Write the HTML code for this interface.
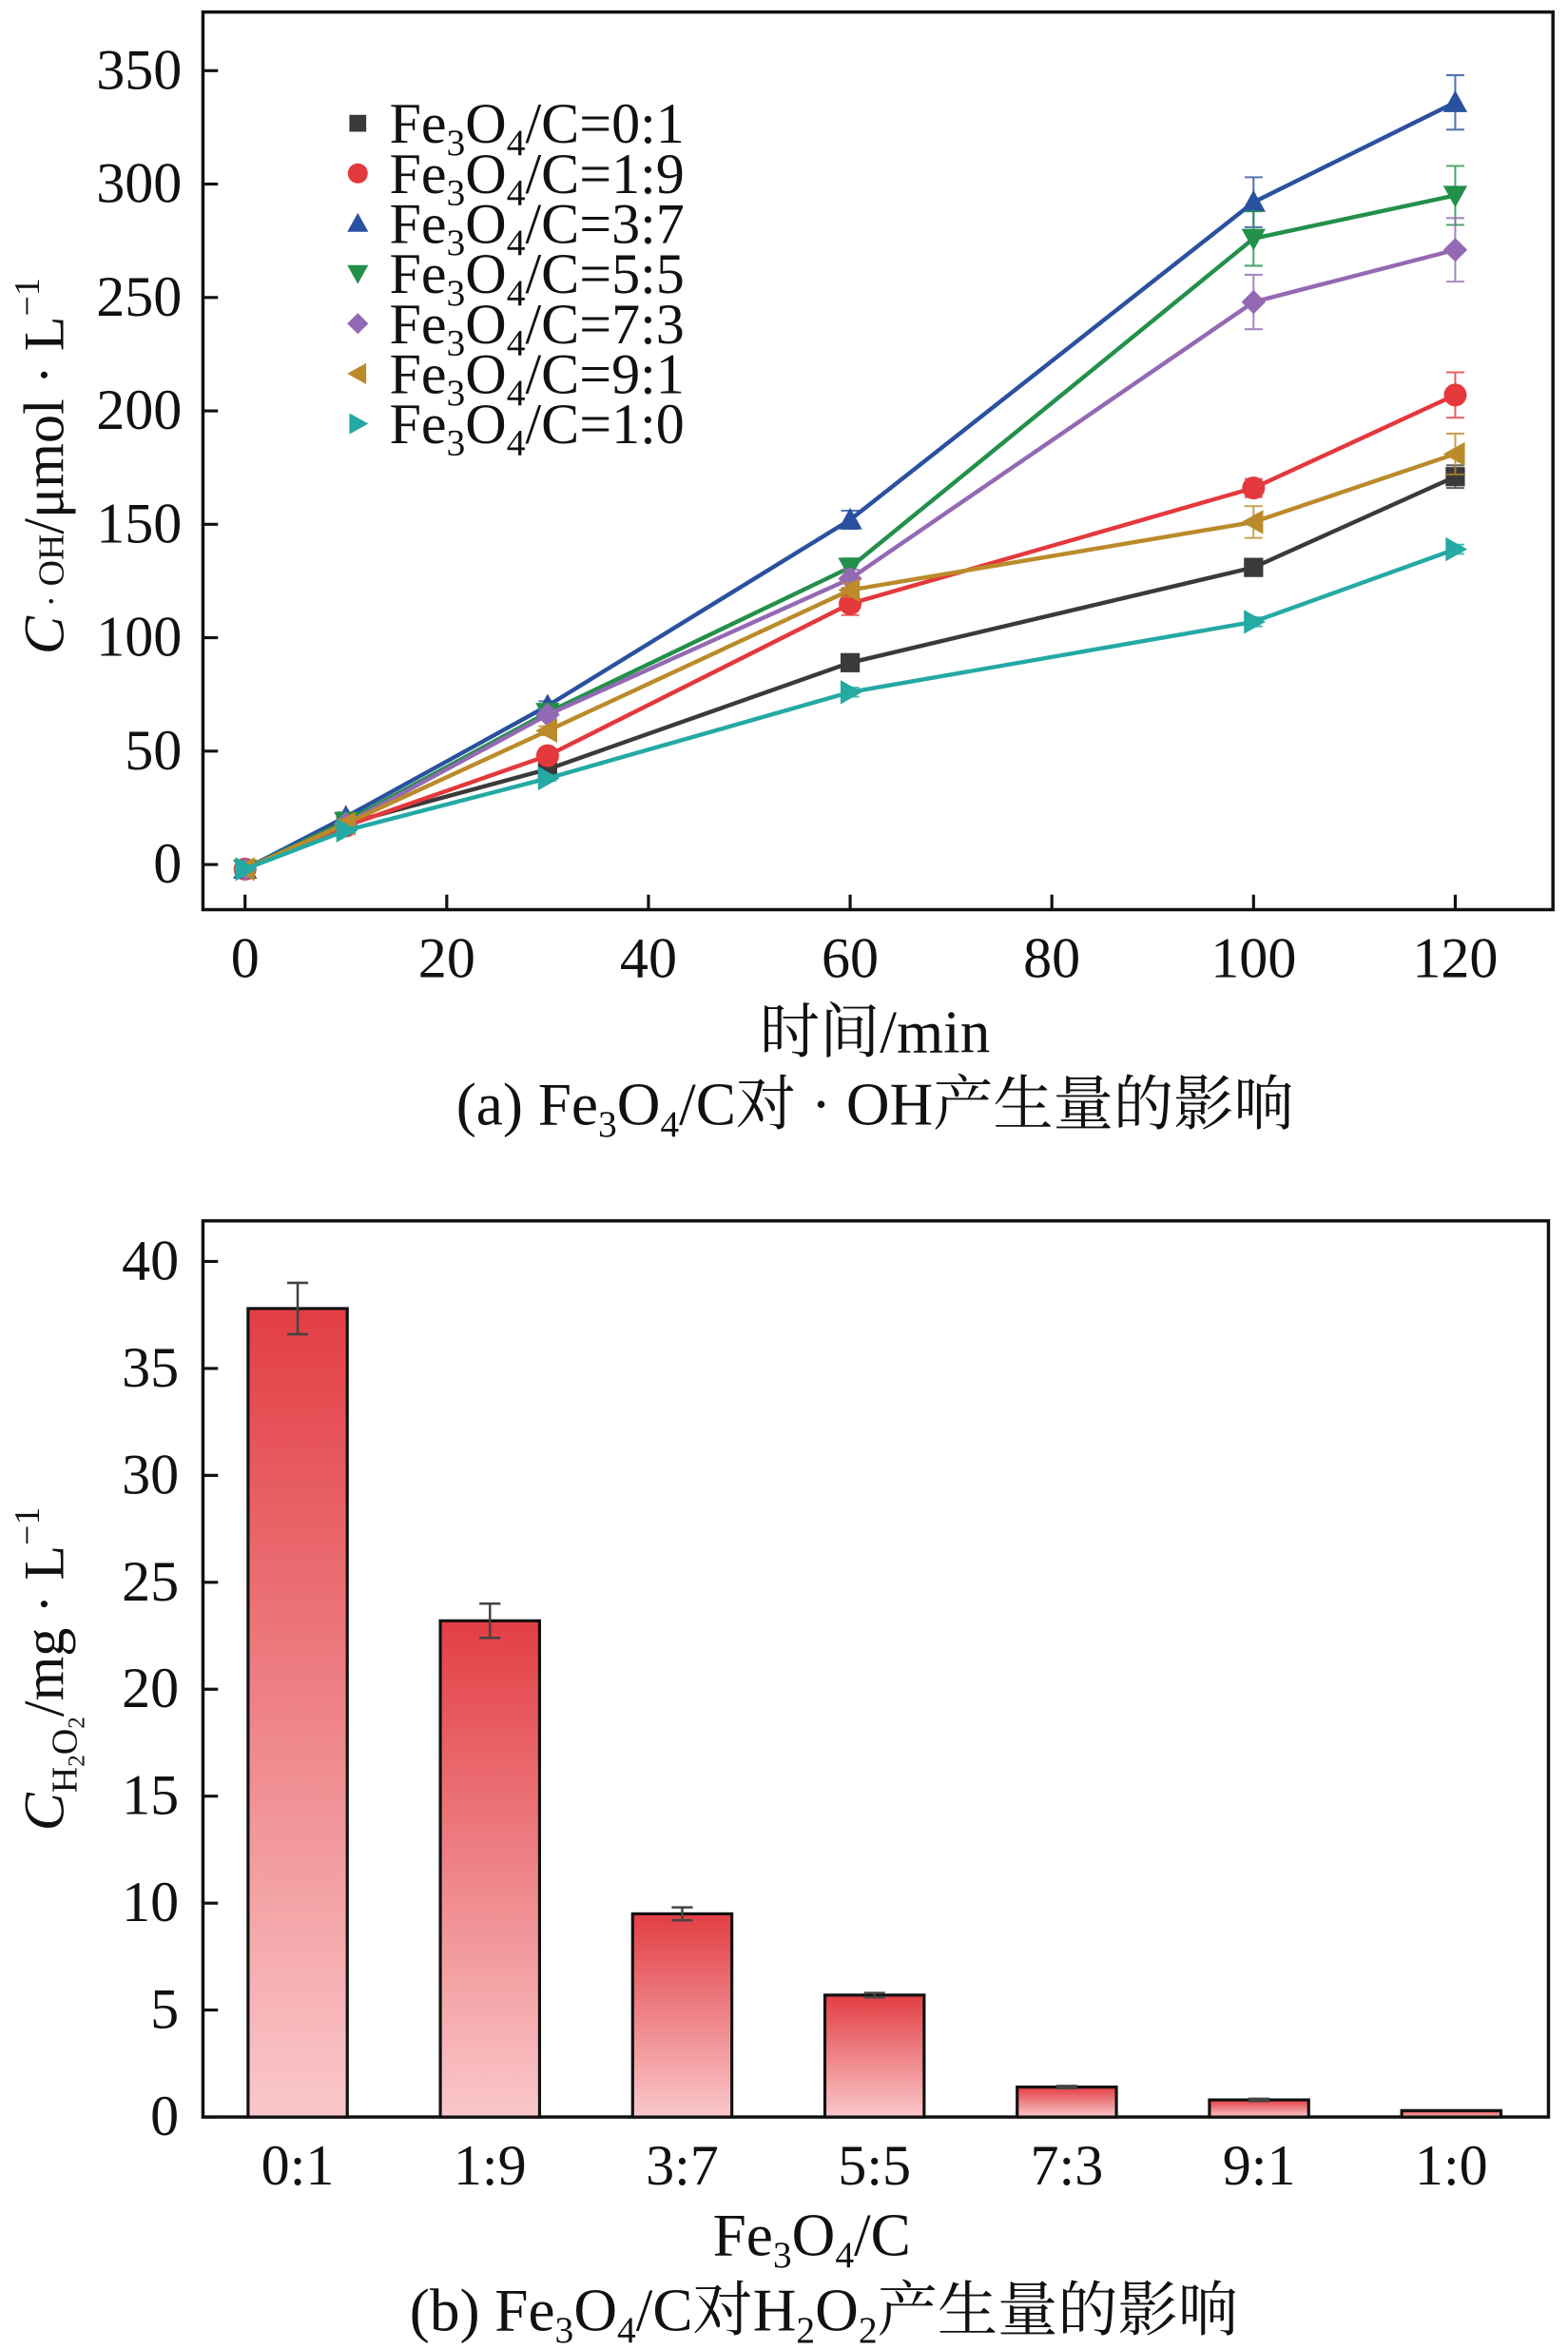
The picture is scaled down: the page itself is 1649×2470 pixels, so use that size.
<!DOCTYPE html>
<html><head><meta charset="utf-8"><style>
html,body{margin:0;padding:0;background:#fff}
svg{display:block}
text{font-family:"Liberation Serif","Noto Serif CJK SC",serif;fill:#111}
</style></head><body>
<svg id="fig" width="1649" height="2470" viewBox="0 0 1043 1562.3" preserveAspectRatio="none" xmlns="http://www.w3.org/2000/svg">
<defs>
<linearGradient id="barg" x1="0" y1="0" x2="0" y2="1">
<stop offset="0" stop-color="#e23e44"/><stop offset="1" stop-color="#fac8ca"/>
</linearGradient>
</defs>
<g id="chartA"></g>
<g id="chartB"></g>
</svg>
<script>
// ---- Chart A data ----
const timesA = [0, 10, 30, 60, 100, 120];
const seriesNames = ["0:1","1:9","3:7","5:5","7:3","9:1","1:0"];
const s01 = [-2, 18, 42, 89, 131, 171];
const s19 = [-2, 17, 48, 115, 166, 207];
const s37 = [-2, 21, 70, 152, 292, 336];
const s55 = [-2, 19, 67, 131, 276, 295];
const s73 = [-2, 18, 66, 126, 248, 271];
const s91 = [-2, 18, 59, 121, 151, 181];
const s10 = [-2, 15, 38, 76, 107, 139];
const err01 = [0, 1, 2, 2, 3, 5];
const err19 = [0, 2, 3, 5, 4, 10];
const err37 = [0, 2, 2, 4, 11, 12];
const err55 = [0, 2, 2, 4, 12, 13];
const err73 = [0, 2, 2, 4, 12, 14];
const err91 = [0, 2, 2, 3, 7, 9];
const err10 = [0, 1, 1, 2, 2, 2];
const yTicksA = [0, 50, 100, 150, 200, 250, 300, 350];
const xTicksA = [0, 20, 40, 60, 80, 100, 120];
// ---- Chart B data ----
const ratiosB = ["0:1","1:9","3:7","5:5","7:3","9:1","1:0"];
const valuesB = [37.8, 23.2, 9.5, 5.7, 1.4, 0.8, 0.3];
const errorsB = [1.2, 0.8, 0.3, 0.1, 0.05, 0.05, 0];
const yTicksB = [0, 5, 10, 15, 20, 25, 30, 35, 40];

const NS = "http://www.w3.org/2000/svg";
function mk(tag, attrs, parent, txt){
  const e = document.createElementNS(NS, tag);
  for (const k in attrs) e.setAttribute(k, attrs[k]);
  if (txt !== undefined) e.textContent = txt;
  parent.appendChild(e); return e;
}
const A = document.getElementById('chartA');
const B = document.getElementById('chartB');
const SUB = 'font-size="25" dy="8"', UP = 'dy="-8"';

// Chart A axes
const axA = {l:135, r:1033, t:8, b:605};
const xA = v => 163 + v * (968 - 163) / 120;
const yA = v => 575 - v * (575 - 47) / 350;
let fr = mk('rect', {x:axA.l, y:axA.t, width:axA.r-axA.l, height:axA.b-axA.t, fill:'none', stroke:'#111', 'stroke-width':2.2}, A);


yTicksA.forEach(v => {
  mk('line', {x1:axA.l, x2:axA.l+10, y1:yA(v), y2:yA(v), stroke:'#111', 'stroke-width':2}, A);
  const t = mk('text', {x:axA.l-14, y:yA(v)+12, 'text-anchor':'end', 'font-size':38}, A, v);
  
  
});
xTicksA.forEach(v => {
  mk('line', {x1:xA(v), x2:xA(v), y1:axA.b, y2:axA.b-10, stroke:'#111', 'stroke-width':2}, A);
  const t = mk('text', {x:xA(v), y:axA.b+45, 'text-anchor':'middle', 'font-size':38}, A, v);
  
  
});
const colors = ['#3a3a3a','#e4383c','#2a519f','#23904a','#9469b4','#bb8a2a','#24a9a4'];
const shapes = ['square','circle','up','down','diamond','left','right'];
const allS = [s01,s19,s37,s55,s73,s91,s10];
const allE = [err01,err19,err37,err55,err73,err91,err10];
function marker(shape, x, y, s, c, parent){
  let d;
  if (shape==='square') return mk('rect',{x:x-s*0.8,y:y-s*0.8,width:s*1.6,height:s*1.6,fill:c},parent);
  if (shape==='circle') return mk('circle',{cx:x,cy:y,r:s*0.95,fill:c},parent);
  if (shape==='up') d=`M${x},${y-s} L${x+s},${y+s*0.8} L${x-s},${y+s*0.8}Z`;
  if (shape==='down') d=`M${x},${y+s} L${x+s},${y-s*0.8} L${x-s},${y-s*0.8}Z`;
  if (shape==='diamond') d=`M${x},${y-s} L${x+s},${y} L${x},${y+s} L${x-s},${y}Z`;
  if (shape==='left') d=`M${x-s},${y} L${x+s*0.8},${y-s} L${x+s*0.8},${y+s}Z`;
  if (shape==='right') d=`M${x+s},${y} L${x-s*0.8},${y-s} L${x-s*0.8},${y+s}Z`;
  return mk('path',{d:d,fill:c},parent);
}
allS.forEach((ser, i) => {
  const g = mk('g', {}, A);
  
  
  const pts = ser.map((v,j) => xA(timesA[j]) + ',' + yA(v)).join(' ');
  mk('polyline', {points:pts, fill:'none', stroke:colors[i], 'stroke-width':2.8}, g);
  ser.forEach((v,j) => {
    const e = allE[i][j];
    if (e > 0) {
      const x = xA(timesA[j]);
      mk('path', {d:`M${x},${yA(v-e)}V${yA(v+e)}M${x-6},${yA(v-e)}h12M${x-6},${yA(v+e)}h12`, stroke:colors[i], 'stroke-width':1.3, fill:'none', opacity:0.8}, g);
    }
    const m = marker(shapes[i], xA(timesA[j]), yA(v), 8, colors[i], g);
    
    
  });
});
// legend
seriesNames.forEach((n, i) => {
  const y = 82 + i * 33.3;
  const g = mk('g', {}, A);
  
  
  marker(shapes[i], 238, y, 7, colors[i], g);
  const t = mk('text', {x:259, y:y+13, 'font-size':38}, g);
  t.innerHTML = `Fe<tspan ${SUB}>3</tspan><tspan ${UP}>O</tspan><tspan ${SUB}>4</tspan><tspan ${UP}>/C=${n}</tspan>`;
});
let yl = mk('text', {transform:'translate(42,310) rotate(-90)', 'text-anchor':'middle', 'font-size':38}, A);
yl.innerHTML = '<tspan font-style="italic">C</tspan><tspan font-size="24"> · OH</tspan>/μmol · L<tspan font-size="24" dy="-16">−1</tspan>';


let xl = mk('text', {x:582, y:700, 'text-anchor':'middle', 'font-size':40}, A, '时间/min');


let ca = mk('text', {x:582, y:748, 'text-anchor':'middle', 'font-size':40}, A);
ca.innerHTML = `(a) Fe<tspan ${SUB}>3</tspan><tspan ${UP}>O</tspan><tspan ${SUB}>4</tspan><tspan ${UP}>/C对 · OH产生量的影响</tspan>`;



// Chart B
const axB = {l:135, r:1030, t:812, b:1408};
const yB = v => 1408 - v * (1408 - 839) / 40;
const xB = i => 198 + i * 127.9;
let frb = mk('rect', {x:axB.l, y:axB.t, width:axB.r-axB.l, height:axB.b-axB.t, fill:'none', stroke:'#111', 'stroke-width':2.2}, B);


yTicksB.forEach(v => {
  mk('line', {x1:axB.l, x2:axB.l+10, y1:yB(v), y2:yB(v), stroke:'#111', 'stroke-width':2}, B);
  const t = mk('text', {x:axB.l-16, y:yB(v)+12, 'text-anchor':'end', 'font-size':38}, B, v);
  
  
});
ratiosB.forEach((r, i) => {
  const v = valuesB[i], x = xB(i);
  const bar = mk('rect', {x:x-33, y:yB(v), width:66, height:yB(0)-yB(v), fill:'url(#barg)', stroke:'#111', 'stroke-width':2}, B);
  
  
  const e = errorsB[i];
  if (e > 0) mk('path', {d:`M${x},${yB(v-e)}V${yB(v+e)}M${x-7},${yB(v-e)}h14M${x-7},${yB(v+e)}h14`, stroke:'#444', 'stroke-width':1.6, fill:'none'}, B);
  const t = mk('text', {x:x, y:axB.b+45, 'text-anchor':'middle', 'font-size':38}, B, r);
  
  
});
let ylb = mk('text', {transform:'translate(42,1110) rotate(-90)', 'text-anchor':'middle', 'font-size':38}, B);
ylb.innerHTML = '<tspan font-style="italic">C</tspan><tspan font-size="24" dy="9">H</tspan><tspan font-size="16" dy="5">2</tspan><tspan font-size="24" dy="-5">O</tspan><tspan font-size="16" dy="5">2</tspan><tspan dy="-14">/mg · L</tspan><tspan font-size="24" dy="-16">−1</tspan>';


let xlb = mk('text', {x:540, y:1500, 'text-anchor':'middle', 'font-size':40}, B);
xlb.innerHTML = `Fe<tspan ${SUB}>3</tspan><tspan ${UP}>O</tspan><tspan ${SUB}>4</tspan><tspan ${UP}>/C</tspan>`;


let cb = mk('text', {x:548, y:1550, 'text-anchor':'middle', 'font-size':40}, B);
cb.innerHTML = `(b) Fe<tspan ${SUB}>3</tspan><tspan ${UP}>O</tspan><tspan ${SUB}>4</tspan><tspan ${UP}>/C对H</tspan><tspan ${SUB}>2</tspan><tspan ${UP}>O</tspan><tspan ${SUB}>2</tspan><tspan ${UP}>产生量的影响</tspan>`;


</script>
</body></html>
